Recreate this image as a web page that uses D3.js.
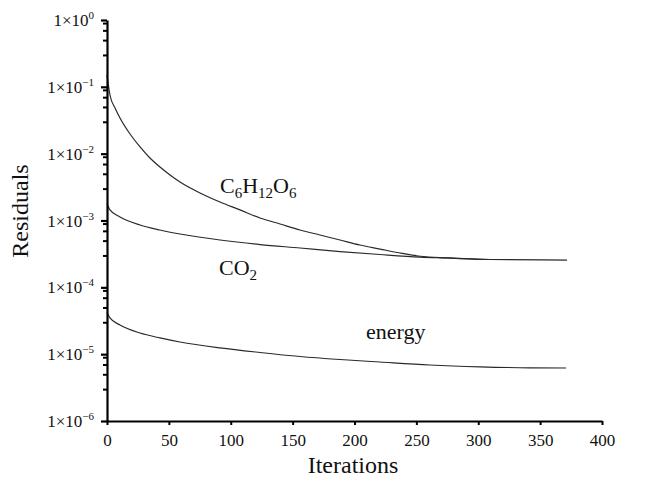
<!DOCTYPE html>
<html>
<head>
<meta charset="utf-8">
<script src="https://cdn.jsdelivr.net/npm/d3@7"></script>
<style>
  html, body { margin: 0; padding: 0; background: #fff; }
  svg { display: block; }
  text { font-family: "Liberation Serif", "Times New Roman", serif; fill: #111; }
</style>
</head>
<body>
<svg id="chart" width="654" height="481"></svg>
<script>
// ---- data ----
const xTicks = [0, 50, 100, 150, 200, 250, 300, 350, 400];
const yExponents = [0, -1, -2, -3, -4, -5, -6];
const minorMantissas = [9, 7, 5, 3];

const glucoseIter = [0, 2.4, 6.5, 10.5, 18.6, 26.7, 34.7, 42.8, 50.9, 59, 75.2, 91.3, 107.5, 123.6, 139.8, 156, 172, 188.3, 204.4, 220.6, 236.8, 253, 274.7, 309.5];
const glucoseVal  = [0.15, 0.0755, 0.0482, 0.0342, 0.0197, 0.0126, 8.61e-3, 6.31e-3, 4.80e-3, 3.77e-3, 2.58e-3, 1.89e-3, 1.44e-3, 1.09e-3, 8.87e-4, 7.21e-4, 6.07e-4, 5.11e-4, 4.30e-4, 3.74e-4, 3.26e-4, 2.92e-4, 2.76e-4, 2.61e-4];

const co2Iter = [0, 2.4, 10.5, 26.7, 42.8, 59, 91.3, 123.6, 156, 188.3, 220.6, 253, 274.7, 309.5, 371.7];
const co2Val  = [1.8e-3, 1.44e-3, 1.13e-3, 8.57e-4, 7.21e-4, 6.28e-4, 5.11e-4, 4.37e-4, 3.88e-4, 3.43e-4, 3.10e-4, 2.84e-4, 2.75e-4, 2.61e-4, 2.56e-4];

const energyIter = [0, 2.4, 10.5, 26.7, 42.8, 59, 91.3, 123.6, 156, 188.3, 220.6, 261, 301.4, 341.8, 371];
const energyVal  = [4.25e-5, 3.48e-5, 2.73e-5, 2.07e-5, 1.75e-5, 1.52e-5, 1.24e-5, 1.06e-5, 9.23e-6, 8.32e-6, 7.63e-6, 6.89e-6, 6.47e-6, 6.25e-6, 6.21e-6];

const xTitle = "Iterations";
const yTitle = "Residuals";

// ---- drawing ----
const svg = d3.select("#chart");
const x = d3.scaleLinear().domain([0, 400]).range([107, 602]);
const y = d3.scaleLog().domain([1e-6, 1]).range([421, 20]);

// curves
const line = d3.line()
  .x(d => x(d[0]))
  .y(d => y(d[1]))
  .curve(d3.curveMonotoneX);

const series = [
  { it: glucoseIter, v: glucoseVal },
  { it: co2Iter, v: co2Val },
  { it: energyIter, v: energyVal }
];
series.forEach(s => {
  svg.append("path")
    .datum(s.it.map((d, i) => [d, s.v[i]]))
    .attr("d", line)
    .attr("fill", "none")
    .attr("stroke", "#2a2a2a")
    .attr("stroke-width", 1.2);
});

// minor y ticks
const minorVals = [];
yExponents.slice(0, -1).forEach(e => {
  minorMantissas.forEach(m => minorVals.push(m * Math.pow(10, e - 1)));
});
const yMinor = svg.append("g")
  .attr("transform", `translate(${x(0)},0)`)
  .call(d3.axisLeft(y).tickValues(minorVals).tickSize(4).tickFormat(""));
yMinor.select(".domain").remove();
yMinor.selectAll("line").attr("stroke", "#000").attr("stroke-width", 2);

// major y ticks
const yMajorVals = yExponents.map(e => Math.pow(10, e));
const yAxis = svg.append("g")
  .attr("transform", `translate(${x(0)},0)`)
  .call(d3.axisLeft(y).tickValues(yMajorVals).tickSize(6).tickSizeOuter(0).tickFormat(""));
yAxis.select(".domain").attr("stroke", "#000").attr("stroke-width", 2.2);
yAxis.selectAll("line").attr("stroke", "#000").attr("stroke-width", 2.2);

// y tick labels with superscripts
yExponents.forEach(e => {
  const t = svg.append("text")
    .attr("x", 94)
    .attr("y", y(Math.pow(10, e)) + 6)
    .attr("text-anchor", "end")
    .attr("font-size", 17);
  t.append("tspan").text("1×10");
  t.append("tspan")
    .attr("dy", -7)
    .attr("font-size", 11)
    .text(e === 0 ? "0" : "\u2212" + Math.abs(e));
});

// x axis
const xAxis = svg.append("g")
  .attr("transform", `translate(0,${y(1e-6)})`)
  .call(d3.axisBottom(x).tickValues(xTicks).tickSize(4).tickSizeOuter(0).tickPadding(9));
xAxis.select(".domain").attr("stroke", "#000").attr("stroke-width", 2.2);
xAxis.selectAll("line").attr("stroke", "#000").attr("stroke-width", 2);
xAxis.selectAll("text")
  .attr("font-size", 17)
  .attr("font-family", "Liberation Serif, serif")
  .attr("fill", "#111");

// axis titles
svg.append("text")
  .attr("x", 353).attr("y", 473)
  .attr("text-anchor", "middle")
  .attr("font-size", 24)
  .text(xTitle);
svg.append("text")
  .attr("transform", "translate(28,211) rotate(-90)")
  .attr("text-anchor", "middle")
  .attr("font-size", 24)
  .text(yTitle);

// series labels
const lab1 = svg.append("text").attr("x", 220).attr("y", 193).attr("font-size", 22);
lab1.append("tspan").text("C");
lab1.append("tspan").attr("dy", 5).attr("font-size", 15).text("6");
lab1.append("tspan").attr("dy", -5).text("H");
lab1.append("tspan").attr("dy", 5).attr("font-size", 15).text("12");
lab1.append("tspan").attr("dy", -5).text("O");
lab1.append("tspan").attr("dy", 5).attr("font-size", 15).text("6");

const lab2 = svg.append("text").attr("x", 219).attr("y", 275).attr("font-size", 22);
lab2.append("tspan").text("CO");
lab2.append("tspan").attr("dy", 5).attr("font-size", 15).text("2");

svg.append("text").attr("x", 366).attr("y", 339).attr("font-size", 22).text("energy");
</script>
</body>
</html>
